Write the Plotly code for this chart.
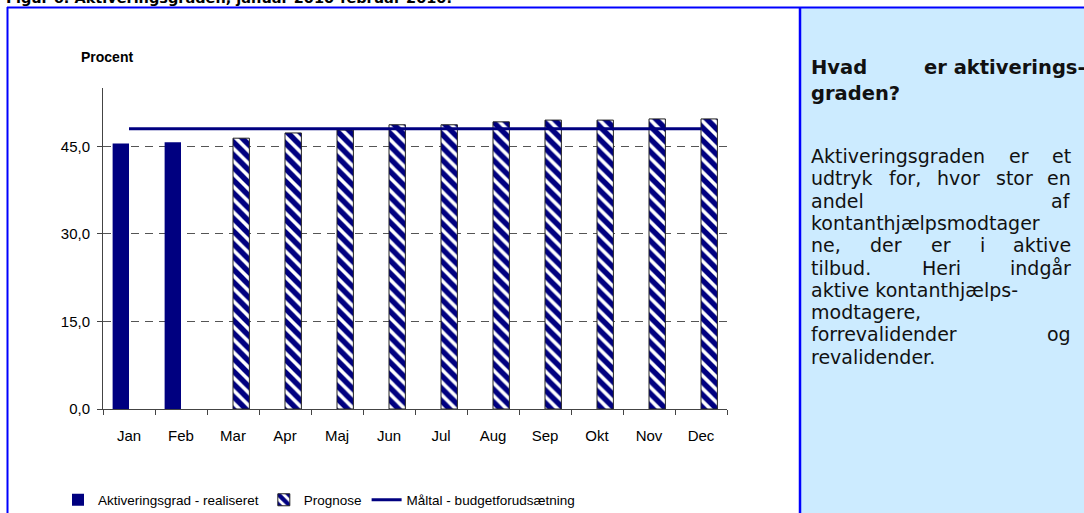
import plotly.graph_objects as go

# Months and values (percent)
months = ["Jan", "Feb", "Mar", "Apr", "Maj", "Jun", "Jul", "Aug", "Sep", "Okt", "Nov", "Dec"]
realiseret = [45.5, 45.7, None, None, None, None, None, None, None, None, None, None]
prognose = [None, None, 46.4, 47.3, 47.8, 48.7, 48.7, 49.2, 49.5, 49.5, 49.7, 49.7]
maaltal = [48.0] * 12

title_text = "Figur 6. Aktiveringsgraden, januar 2010-februar 2010."
y_title = "Procent"

NAVY = "#000080"
BLUE = "#0000FF"
PANEL = "#CCEBFF"

W, H = 1084, 513
L, R, T, B = 103, 357, 88, 104
PW, PH = W - L - R, H - T - B


def px(x):
    return (x - L) / PW


def py(y):
    return (H - B - y) / PH


fig = go.Figure()
fig.add_trace(go.Bar(
    x=months, y=realiseret, name="Aktiveringsgrad - realiseret",
    marker=dict(color=NAVY, line=dict(width=0)),
))
fig.add_trace(go.Bar(
    x=months, y=prognose, name="Prognose",
    marker=dict(color="white", line=dict(color="#222222", width=1),
                pattern=dict(shape="\\", fgcolor=NAVY, bgcolor="white",
                             size=9, solidity=0.6, fillmode="replace")),
))
fig.add_trace(go.Scatter(
    x=months, y=maaltal, name="Måltal - budgetforudsætning",
    mode="lines", line=dict(color=NAVY, width=3),
))

shapes = [
    # light-blue info panel
    dict(type="rect", xref="paper", yref="paper", x0=px(800), x1=px(1090),
         y0=py(520), y1=py(8), fillcolor=PANEL, line=dict(width=0), layer="below"),
    # frame lines
    dict(type="line", xref="paper", yref="paper", x0=px(7), x1=px(1090),
         y0=py(7.5), y1=py(7.5), line=dict(color=BLUE, width=2)),
    dict(type="line", xref="paper", yref="paper", x0=px(7.5), x1=px(7.5),
         y0=py(7), y1=py(520), line=dict(color=BLUE, width=2)),
    dict(type="line", xref="paper", yref="paper", x0=px(800), x1=px(800),
         y0=py(7), y1=py(520), line=dict(color=BLUE, width=2.5)),
]

annotations = [
    dict(text="<b>" + title_text + "</b>", xref="paper", yref="paper",
         x=px(4), y=py(8), xanchor="left", yanchor="bottom", showarrow=False,
         font=dict(family="DejaVu Sans", size=14.5, color="black")),
    dict(text="<b>" + y_title + "</b>", xref="paper", yref="paper",
         x=px(107), y=py(57), xanchor="center", yanchor="middle", showarrow=False,
         font=dict(family="Liberation Sans", size=14, color="black")),
]

# Info panel text, justified word by word
LEFT, RIGHT = 810, 1072
heading = [
    [("Hvad", LEFT, "left"), ("er aktiverings-", 1087, "right")],
    [("graden?", LEFT, "left")],
]
body = [
    [("Aktiveringsgraden", LEFT, "left"), ("er", 1008, "left"), ("et", RIGHT, "right")],
    [("udtryk", LEFT, "left"), ("for,", 888, "left"), ("hvor", 936, "left"),
     ("stor", 995, "left"), ("en", RIGHT, "right")],
    [("andel", LEFT, "left"), ("af", RIGHT, "right")],
    [("kontanthjælpsmodtager", LEFT, "left")],
    [("ne,", LEFT, "left"), ("der", 869, "left"), ("er", 930, "left"),
     ("i", 979, "left"), ("aktive", RIGHT, "right")],
    [("tilbud.", LEFT, "left"), ("Heri", 921, "left"), ("indgår", RIGHT, "right")],
    [("aktive kontanthjælps-", LEFT, "left")],
    [("modtagere,", LEFT, "left")],
    [("forrevalidender", LEFT, "left"), ("og", RIGHT, "right")],
    [("revalidender.", LEFT, "left")],
]
FS = 19
for i, line in enumerate(heading):
    yc = 67 + 26 * i
    for word, x, anc in line:
        annotations.append(dict(text="<b>" + word + "</b>", xref="paper", yref="paper",
                                x=px(x), y=py(yc), xanchor=anc, yanchor="middle",
                                showarrow=False, borderpad=0,
                                font=dict(family="DejaVu Sans", size=FS + 0.5, color="#111111")))
for i, line in enumerate(body):
    yc = 156 + 22.3 * i
    for word, x, anc in line:
        annotations.append(dict(text=word, xref="paper", yref="paper",
                                x=px(x), y=py(yc), xanchor=anc, yanchor="middle",
                                showarrow=False, borderpad=0,
                                font=dict(family="DejaVu Sans", size=FS, color="#111111")))

fig.update_layout(
    width=W, height=H,
    margin=dict(l=L, r=R, t=T, b=B, pad=0, autoexpand=False),
    paper_bgcolor="white", plot_bgcolor="white",
    barmode="group", bargap=0.37, bargroupgap=0,
    separators=",.",
    font=dict(family="Liberation Sans", size=15, color="black"),
    showlegend=True,
    legend=dict(orientation="h", x=px(58), y=py(500), xanchor="left", yanchor="middle",
                font=dict(family="Liberation Sans", size=13.5, color="black"),
                bgcolor="rgba(0,0,0,0)", itemwidth=30, tracegroupgap=0),
    shapes=shapes,
    annotations=annotations,
    xaxis=dict(
        type="category", showline=True, linecolor="#444444", linewidth=1,
        ticks="outside", ticklen=5, tickcolor="#444444", tickson="boundaries",
        showgrid=False, tickfont=dict(size=15), ticklabelstandoff=13,
    ),
    yaxis=dict(
        range=[0, 55], tickvals=[0, 15, 30, 45], tickformat=".1f",
        showline=True, linecolor="#444444", linewidth=1,
        ticks="outside", ticklen=5, tickcolor="#444444",
        showgrid=True, gridcolor="#555555", gridwidth=1, griddash="8px,6px",
        zeroline=False, tickfont=dict(size=15), ticklabelstandoff=4,
    ),
)

fig.write_html("out.html")
